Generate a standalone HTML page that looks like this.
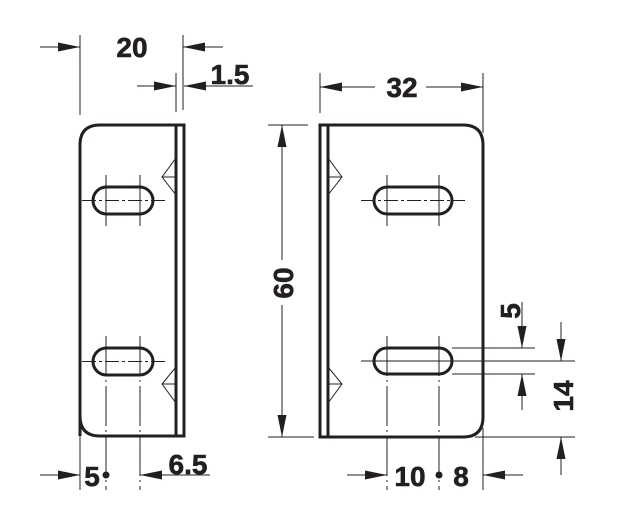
<!DOCTYPE html>
<html><head><meta charset="utf-8"><style>
html,body{margin:0;padding:0;background:#fff;}
svg{display:block;}
text{font-family:"Liberation Sans",Arial,sans-serif;font-weight:bold;fill:#231f20;stroke:#231f20;stroke-width:0.6;}
</style></head><body>
<svg width="619" height="521" viewBox="0 0 619 521" xmlns="http://www.w3.org/2000/svg">
<g stroke="#231f20" fill="none">
<path d="M80,436 V145 Q80,125 100,125 H184 V436 H100 Q80,436 80,416" stroke-width="3"/>
<line x1="176" y1="125" x2="176" y2="436" stroke-width="3"/>
<path d="M176,158 L162,177 L176,195 M162,177 H176" stroke-width="1"/>
<path d="M176,367 L162,384 L176,403 M162,384 H176" stroke-width="1"/>
<rect x="93" y="187" width="60" height="27" rx="13.5" stroke-width="3"/>
<rect x="93" y="348" width="60" height="27" rx="13.5" stroke-width="3"/>
<g stroke-width="1">
<line x1="82" y1="200.5" x2="165" y2="200.5" stroke-dasharray="14,3,3,3"/>
<line x1="82" y1="361.5" x2="165" y2="361.5" stroke-dasharray="14,3,3,3"/>
<line x1="106" y1="175" x2="106" y2="226"/><line x1="140" y1="175" x2="140" y2="226"/>
<line x1="106" y1="336" x2="106" y2="490" stroke-dasharray="40,4,2,4"/>
<line x1="140" y1="336" x2="140" y2="490" stroke-dasharray="40,4,2,4"/>
<line x1="80" y1="425" x2="80" y2="490"/>
<line x1="80" y1="35" x2="80" y2="115"/>
<line x1="183" y1="35" x2="183" y2="110"/>
<line x1="176" y1="73" x2="176" y2="112"/>
<line x1="40" y1="47" x2="80" y2="47"/>
<line x1="223" y1="47" x2="183" y2="47"/>
<line x1="137" y1="86" x2="176" y2="86"/>
<line x1="253" y1="86" x2="184" y2="86"/>
<line x1="40" y1="475" x2="80" y2="475"/>
<line x1="210" y1="475" x2="140" y2="475"/>
</g>
<path d="M320,125 H463 Q483,125 483,145 V417 Q483,437 463,437 H320 Z" stroke-width="3"/>
<line x1="328" y1="125" x2="328" y2="437" stroke-width="3"/>
<path d="M328,158 L342,177 L328,195 M328,177 H342" stroke-width="1"/>
<path d="M328,367 L342,384 L328,403 M328,384 H342" stroke-width="1"/>
<rect x="374" y="187" width="78" height="27" rx="13.5" stroke-width="3"/>
<rect x="374" y="348" width="78" height="26" rx="13" stroke-width="3"/>
<g stroke-width="1">
<line x1="361" y1="200.5" x2="465" y2="200.5" stroke-dasharray="14,3,3,3"/>
<line x1="361" y1="361" x2="575" y2="361"/>
<line x1="387" y1="175" x2="387" y2="226"/><line x1="439" y1="175" x2="439" y2="226"/>
<line x1="387" y1="336" x2="387" y2="490" stroke-dasharray="40,4,2,4"/>
<line x1="439" y1="336" x2="439" y2="490" stroke-dasharray="40,4,2,4"/>
<line x1="483" y1="428" x2="483" y2="490"/>
<line x1="268" y1="125" x2="308" y2="125"/>
<line x1="268" y1="437" x2="314" y2="437"/>
<line x1="282" y1="260" x2="282" y2="125"/>
<line x1="282" y1="305" x2="282" y2="437"/>
<line x1="320" y1="73" x2="320" y2="113"/>
<line x1="483" y1="73" x2="483" y2="133"/>
<line x1="375" y1="87" x2="320" y2="87"/>
<line x1="426" y1="87" x2="483" y2="87"/>
<line x1="452" y1="348" x2="535" y2="348"/>
<line x1="452" y1="374" x2="535" y2="374"/>
<line x1="475" y1="437" x2="575" y2="437"/>
<line x1="522" y1="302" x2="522" y2="348"/>
<line x1="522" y1="410" x2="522" y2="374"/>
<line x1="561" y1="322" x2="561" y2="361"/>
<line x1="561" y1="475" x2="561" y2="437"/>
<line x1="347" y1="475" x2="387" y2="475"/>
<line x1="523" y1="475" x2="483" y2="475"/>
</g>
</g>
<g fill="#231f20">
<polygon points="58,42.5 80,47 58,51.5"/>
<polygon points="205,42.5 183,47 205,51.5"/>
<polygon points="154,81.5 176,86 154,90.5"/>
<polygon points="206,81.5 184,86 206,90.5"/>
<polygon points="58,470.5 80,475 58,479.5"/>
<polygon points="162,470.5 140,475 162,479.5"/>
<polygon points="277.5,147 282,125 286.5,147"/>
<polygon points="277.5,415 282,437 286.5,415"/>
<polygon points="342,82.5 320,87 342,91.5"/>
<polygon points="461,82.5 483,87 461,91.5"/>
<polygon points="517.5,326 522,348 526.5,326"/>
<polygon points="517.5,396 522,374 526.5,396"/>
<polygon points="556.5,339 561,361 565.5,339"/>
<polygon points="556.5,459 561,437 565.5,459"/>
<polygon points="365,470.5 387,475 365,479.5"/>
<polygon points="505,470.5 483,475 505,479.5"/>
<circle cx="106" cy="475" r="3.5"/>
<circle cx="439" cy="475" r="3.5"/>
</g>
<text x="132" y="57" font-size="28" text-anchor="middle">20</text>
<text x="230" y="84" font-size="28" text-anchor="middle">1.5</text>
<text x="402" y="97" font-size="28" text-anchor="middle">32</text>
<text x="92" y="486" font-size="28" text-anchor="middle">5</text>
<text x="188" y="474" font-size="28" text-anchor="middle">6.5</text>
<text x="410" y="486" font-size="28" text-anchor="middle">10</text>
<text x="461" y="486" font-size="28" text-anchor="middle">8</text>
<text transform="translate(293,283) rotate(-90)" font-size="28" text-anchor="middle">60</text>
<text transform="translate(520,311) rotate(-90)" font-size="28" text-anchor="middle">5</text>
<text transform="translate(573,396) rotate(-90)" font-size="28" text-anchor="middle">14</text>
</svg>
</body></html>
